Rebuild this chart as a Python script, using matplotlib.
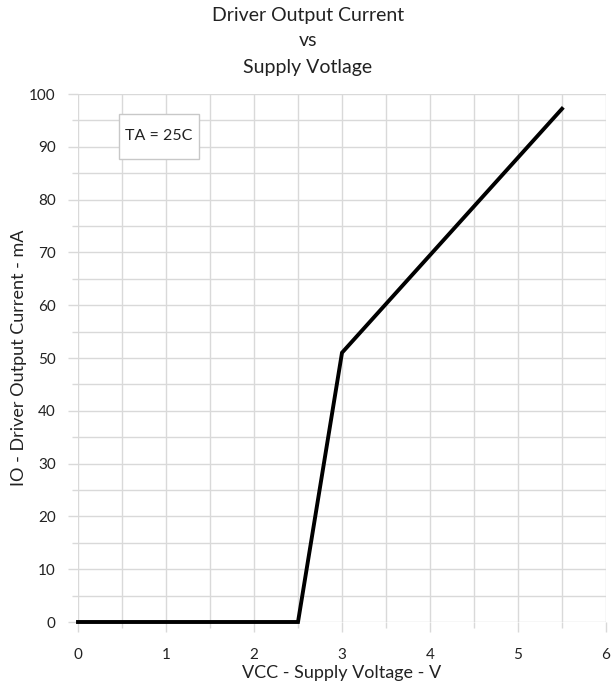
import matplotlib
matplotlib.use("Agg")
import matplotlib.pyplot as plt
from matplotlib.ticker import MultipleLocator
from matplotlib.patches import Rectangle

plt.rcParams['font.family'] = ['Lato', 'DejaVu Sans']

vcc = [0, 2.5, 3.0, 5.5]
io = [0, 0, 51, 97.2]
x_ticks = [0, 1, 2, 3, 4, 5, 6]
y_ticks = [0, 10, 20, 30, 40, 50, 60, 70, 80, 90, 100]
title_lines = ['Driver Output Current', 'vs', 'Supply Votlage']

W, H = 616, 690
fig = plt.figure(figsize=(6.16, 6.9), dpi=100)
ax = fig.add_axes([78/W, 68/H, 528/W, 528/H])

ax.plot(vcc, io, color='black', lw=2.8, solid_joinstyle='miter', zorder=3, clip_on=False)
ax.set_xlim(0, 6)
ax.set_ylim(0, 100)
ax.set_xticks(x_ticks)
ax.set_yticks(y_ticks)
ax.xaxis.set_minor_locator(MultipleLocator(0.5))
ax.yaxis.set_minor_locator(MultipleLocator(5))
ax.grid(True, which='both', color='#d9d9d9', lw=1.0, zorder=0)
for s in ax.spines.values():
    s.set_visible(False)
ax.tick_params(which='major', length=7, color='#d9d9d9', width=1.0, labelsize=11, labelcolor='#222222')
ax.tick_params(axis='x', which='major', pad=12)
ax.tick_params(axis='y', which='major', pad=9)
ax.tick_params(which='minor', length=4, color='#d9d9d9', width=1.0)

ax.set_xlabel('VCC - Supply Voltage - V', fontsize=13, labelpad=2, color='#222222')
ax.set_ylabel('IO - Driver Output Current - mA', fontsize=13, color='#222222')
ax.yaxis.label.set_va('center')
ax.yaxis.set_label_coords((19 - 78)/528, 0.5)
for yc, line in zip([16, 41, 67], title_lines):
    fig.text(0.5, 1 - yc/H, line, ha='center', va='center', fontsize=14, color='#222222')

ax.add_patch(Rectangle((41/528, (622-159)/528), 80/528, 45/528, transform=ax.transAxes,
                       facecolor='white', edgecolor='#c8c8c8', lw=1.0, zorder=4))
ax.text((159-78)/528, (622-136.5)/528, 'TA = 25C', transform=ax.transAxes, ha='center', va='center',
        fontsize=11.5, color='#222222', zorder=5)

fig.savefig('out.png', dpi=100, facecolor='white')
